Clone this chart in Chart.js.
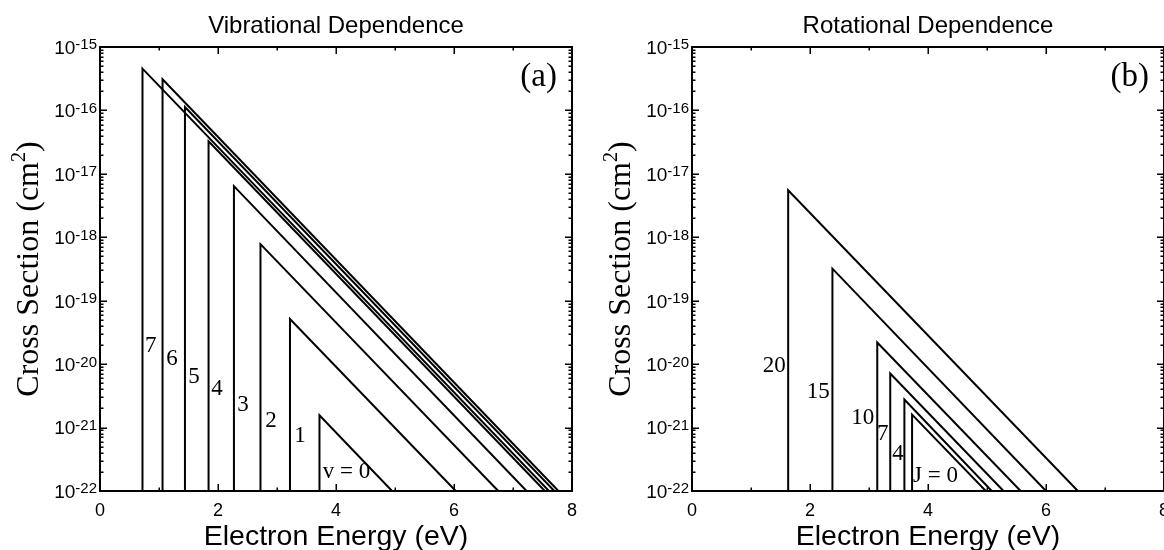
<!DOCTYPE html>
<html>
<head>
<meta charset="utf-8">
<script src="https://cdn.jsdelivr.net/npm/chart.js@4.4.0/dist/chart.umd.min.js"></script>
<style>
html,body{margin:0;padding:0;background:#fff;}
#wrap{position:relative;width:1164px;height:550px;overflow:hidden;background:#fff;}
.panel{position:absolute;top:0;width:582px;height:550px;}
</style>
</head>
<body>
<div id="wrap">
  <div class="panel" style="left:0px"><canvas id="chartA"></canvas></div>
  <div class="panel" style="left:582px"><canvas id="chartB"></canvas></div>
</div>
<script>
// ---------- data ----------
const xMajorTicks = [0, 2, 4, 6, 8];
const xMinorTicks = [1, 3, 5, 7];
const yDecadeExponents = [-22, -21, -20, -19, -18, -17, -16, -15];
const floorValue = 1e-22;

// (a) vibrational dependence, v = 0..7
const vibLabels   = ['v = 0', '1', '2', '3', '4', '5', '6', '7'];
const vibOnset    = [3.72, 3.22, 2.72, 2.27, 1.84, 1.44, 1.06, 0.72];       // eV
const vibPeak     = [1.56e-21, 5.15e-20, 7.8e-19, 6.4e-18, 3.26e-17, 1.13e-16, 3.1e-16, 4.56e-16]; // cm^2
const vibEnd      = [4.95, 6.03, 6.75, 7.23, 7.54, 7.70, 7.77, 7.61];       // eV
const vibLabelX   = [3.775, 3.39, 2.898, 2.424, 1.983, 1.593, 1.22, 0.86];  // eV
const vibLabelY   = [2.0e-22, 7.3e-22, 1.26e-21, 2.29e-21, 4.01e-21, 6.27e-21, 1.19e-20, 1.91e-20];

// (b) rotational dependence, J = 0,4,7,10,15,20
const rotLabels   = ['J = 0', '4', '7', '10', '15', '20'];
const rotOnset    = [3.73, 3.60, 3.36, 3.14, 2.38, 1.63];
const rotPeak     = [1.6e-21, 2.76e-21, 7.1e-21, 2.19e-20, 3.2e-19, 5.5e-18];
const rotEnd      = [4.98, 5.08, 5.28, 5.57, 6.00, 6.54];
const rotLabelX   = [3.746, 3.493, 3.231, 2.893, 2.14, 1.396];
const rotLabelY   = [1.74e-22, 3.83e-22, 7.83e-22, 1.43e-21, 3.64e-21, 9.25e-21];

// ---------- helpers ----------
const SANS = '"Liberation Sans", Arial, Helvetica, sans-serif';
const SERIF = '"Liberation Serif", "Times New Roman", Times, serif';

function makeDatasets(onset, peak, end) {
  return onset.map((e, i) => ({
    data: [{x: e, y: floorValue}, {x: e, y: peak[i]}, {x: end[i], y: floorValue}],
    showLine: true,
    borderColor: '#000',
    borderWidth: 2,
    pointRadius: 0,
    tension: 0,
    fill: false
  }));
}

const decorPlugin = {
  id: 'decor',
  afterDraw(chart, args, o) {
    const ctx = chart.ctx, a = chart.chartArea;
    const xs = chart.scales.x, ys = chart.scales.y;
    ctx.save();
    ctx.fillStyle = '#000';
    ctx.strokeStyle = '#000';

    // ticks (inward, all four sides)
    ctx.lineWidth = 1.5;
    ctx.beginPath();
    const xt = (v, L) => {
      const px = Math.round(xs.getPixelForValue(v)) + 0.25;
      ctx.moveTo(px, a.bottom); ctx.lineTo(px, a.bottom - L);
      ctx.moveTo(px, a.top); ctx.lineTo(px, a.top + L);
    };
    xMajorTicks.forEach(v => xt(v, 7));
    xMinorTicks.forEach(v => xt(v, 3.5));
    const yt = (v, L) => {
      const py = Math.round(ys.getPixelForValue(v)) + 0.25;
      ctx.moveTo(a.left, py); ctx.lineTo(a.left + L, py);
      ctx.moveTo(a.right, py); ctx.lineTo(a.right - L, py);
    };
    yDecadeExponents.forEach(e => {
      yt(Math.pow(10, e), 7);
      if (e < -15) for (let k = 2; k <= 9; k++) yt(k * Math.pow(10, e), 3.5);
    });
    ctx.stroke();

    // frame
    ctx.lineWidth = 2;
    ctx.strokeRect(a.left, a.top, a.right - a.left, a.bottom - a.top);

    // x tick labels
    ctx.font = '18px ' + SANS;
    ctx.textAlign = 'center';
    ctx.textBaseline = 'alphabetic';
    xMajorTicks.forEach(v => ctx.fillText(String(v), xs.getPixelForValue(v), a.bottom + 24.5));

    // y tick labels 10^n
    yDecadeExponents.forEach(e => {
      const py = ys.getPixelForValue(Math.pow(10, e));
      ctx.font = '19px ' + SANS;
      const w1 = ctx.measureText('10').width;
      ctx.font = '15px ' + SANS;
      const sup = String(e);
      const w2 = ctx.measureText(sup).width;
      const x0 = a.left - 3 - w1 - w2;
      ctx.textAlign = 'left';
      ctx.font = '19px ' + SANS;
      ctx.fillText('10', x0, py + 6.8);
      ctx.font = '15px ' + SANS;
      ctx.fillText(sup, x0 + w1, py + 2.4);
    });

    // panel title
    const cx = (a.left + a.right) / 2;
    ctx.textAlign = 'center';
    ctx.font = '24px ' + SANS;
    ctx.fillText(o.title, cx, 33.3);

    // x axis title
    ctx.font = '28.5px ' + SANS;
    ctx.fillText('Electron Energy (eV)', cx, 545);

    // y axis title (rotated, serif, with superscript)
    ctx.save();
    ctx.translate(a.left - 62, (a.top + a.bottom) / 2);
    ctx.rotate(-Math.PI / 2);
    ctx.textAlign = 'left';
    ctx.font = '32px ' + SERIF;
    const t1 = 'Cross Section (cm', t3 = ')';
    const w1 = ctx.measureText(t1).width, w3 = ctx.measureText(t3).width;
    ctx.font = '20px ' + SERIF;
    const w2 = ctx.measureText('2').width;
    let sx = -(w1 + w2 + w3) / 2;
    ctx.font = '32px ' + SERIF;
    ctx.fillText(t1, sx, 0);
    ctx.font = '20px ' + SERIF;
    ctx.fillText('2', sx + w1, -13);
    ctx.font = '32px ' + SERIF;
    ctx.fillText(t3, sx + w1 + w2, 0);
    ctx.restore();

    // panel letter
    ctx.textAlign = 'right';
    ctx.font = '33px ' + SERIF;
    ctx.fillText(o.letter, a.right - 15, a.top + 39);

    // curve labels
    ctx.font = '23px ' + SERIF;
    ctx.textBaseline = 'middle';
    o.labels.forEach((t, i) => {
      const px = xs.getPixelForValue(o.lx[i]);
      const py = ys.getPixelForValue(o.ly[i]);
      ctx.textAlign = (t.indexOf('=') >= 0) ? 'left' : 'center';
      ctx.fillText(t, px, py);
    });
    ctx.restore();
  }
};

function makeChart(id, datasets, pad, decor) {
  return new Chart(document.getElementById(id), {
    type: 'scatter',
    data: { datasets },
    options: {
      responsive: true,
      maintainAspectRatio: false,
      animation: false,
      devicePixelRatio: 1,
      layout: { padding: pad },
      plugins: { legend: { display: false }, tooltip: { enabled: false }, decor },
      scales: {
        x: { type: 'linear', min: 0, max: 8, display: false },
        y: { type: 'logarithmic', min: 1e-22, max: 1e-15, display: false }
      }
    },
    plugins: [decorPlugin]
  });
}

makeChart('chartA', makeDatasets(vibOnset, vibPeak, vibEnd),
  { left: 100, right: 10, top: 47, bottom: 59 },
  { title: 'Vibrational Dependence', letter: '(a)', labels: vibLabels, lx: vibLabelX, ly: vibLabelY });

makeChart('chartB', makeDatasets(rotOnset, rotPeak, rotEnd),
  { left: 110, right: 0, top: 47, bottom: 59 },
  { title: 'Rotational Dependence', letter: '(b)', labels: rotLabels, lx: rotLabelX, ly: rotLabelY });
</script>
</body>
</html>
